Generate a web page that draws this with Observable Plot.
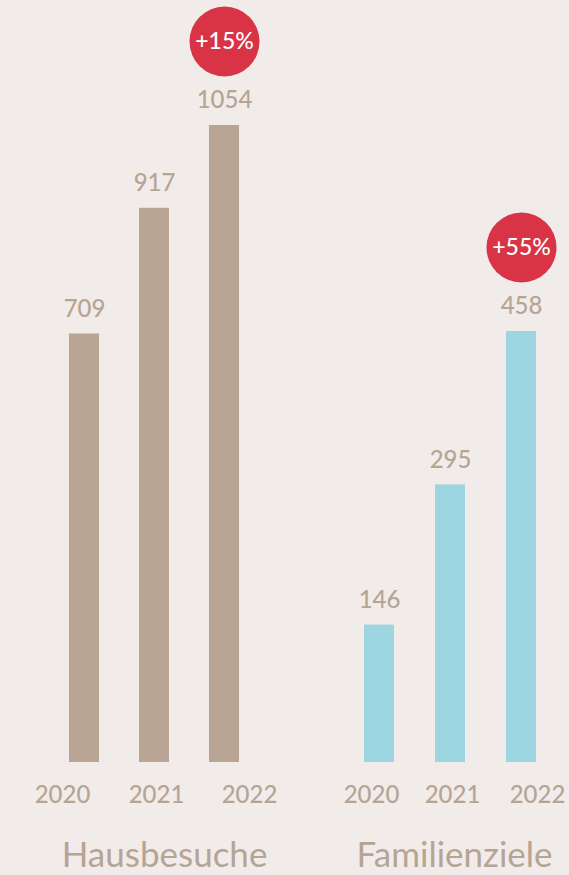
<!DOCTYPE html>
<html>
<head>
<meta charset="utf-8">
<script src="https://cdn.jsdelivr.net/npm/d3@7"></script>
<script src="https://cdn.jsdelivr.net/npm/@observablehq/plot@0.6"></script>
<style>
  html, body { margin: 0; padding: 0; background: #f1ecea; }
  #wrap { position: relative; width: 569px; height: 875px; overflow: hidden; background: #f1ecea; }
  #wrap svg { position: absolute; left: 0; top: 0; background: transparent !important; }
</style>
</head>
<body>
<div id="wrap"></div>
<script>
const years = ["2020", "2021", "2022"];
const hausbesuche = [709, 917, 1054];
const familienziele = [146, 295, 458];
const groupTitles = ["Hausbesuche", "Familienziele"];
const growthLabels = ["+15%", "+55%"];

const FONT = "Lato, 'Open Sans', sans-serif";
const TEXT = "#b6a494";

function groupChart({values, color, xRange, padding, yTop, growth, title, titleDx, yearDx}) {
  const data = years.map((y, i) => ({year: y, value: values[i], dx: yearDx[i]}));
  const last = data[data.length - 1];
  return Plot.plot({
    width: 569,
    height: 875,
    margin: 0,
    style: {background: "transparent", fontFamily: FONT},
    x: {type: "band", domain: years, range: xRange, padding, axis: null},
    y: {domain: [0, d3.max(values)], range: [762, yTop], axis: null},
    marks: [
      Plot.barY(data, {x: "year", y: "value", fill: color}),
      Plot.text(data, {x: "year", y: "value", text: d => String(d.value), dy: -25,
        fill: TEXT, fontSize: 24, fontWeight: 500, lineAnchor: "middle"}),
      ...data.map(d => Plot.text([d], {x: "year", y: () => 0, text: "year", dy: 33, dx: d.dx,
        fill: TEXT, fontSize: 24, fontWeight: 500, lineAnchor: "middle"})),
      Plot.dot([last], {x: "year", y: "value", dy: -84, r: 35, fill: "#d83446"}),
      Plot.text([last], {x: "year", y: "value", dy: -84, text: () => growth,
        fill: "white", fontSize: 23, fontWeight: 500, lineAnchor: "middle"}),
      Plot.text([data[1]], {x: "year", y: () => 0, dy: 93, dx: titleDx, text: () => title,
        fill: TEXT, fontSize: 35, fontWeight: 400, lineAnchor: "middle"})
    ]
  });
}

const wrap = document.getElementById("wrap");
wrap.appendChild(groupChart({
  values: hausbesuche, color: "#b8a594", xRange: [29, 279], padding: 0.571, yTop: 125,
  growth: growthLabels[0], title: groupTitles[0], titleDx: 10, yearDx: [-22, 2, 25]
}));
wrap.appendChild(groupChart({
  values: familienziele, color: "#9dd5e1", xRange: [321.5, 577.5], padding: 0.58, yTop: 331,
  growth: growthLabels[1], title: groupTitles[1], titleDx: 4, yearDx: [-8, 2, 16]
}));
</script>
</body>
</html>
